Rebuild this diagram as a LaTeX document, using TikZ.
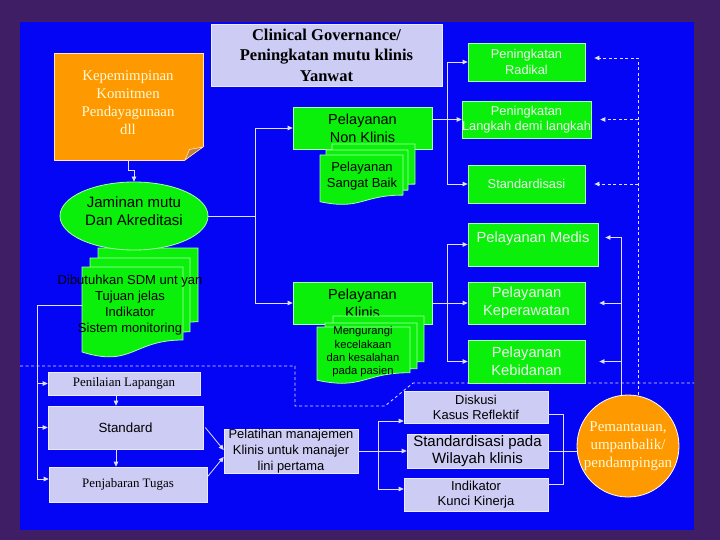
\documentclass[tikz,border=0pt]{standalone}
\usepackage{fontspec}
\setmainfont{Liberation Serif}
\setsansfont{Liberation Sans}
\usetikzlibrary{arrows.meta,shapes.geometric}
\definecolor{bgpurple}{RGB}{64,30,102}
\definecolor{panelblue}{RGB}{5,5,245}
\definecolor{bgreen}{RGB}{10,240,10}
\definecolor{gedge}{RGB}{170,255,170}
\definecolor{lav}{RGB}{204,204,245}
\definecolor{ledge}{RGB}{235,235,255}
\definecolor{orng}{RGB}{255,153,0}
\definecolor{foldc}{RGB}{190,130,60}
\definecolor{lnc}{RGB}{225,225,255}
\definecolor{cream}{RGB}{255,250,215}
\definecolor{wtxt}{RGB}{240,240,240}
\newcommand\docshp[4]{\path[docst] (#1,#2) -- (#3,#2) -- (#3,{#2+0.802*#4}) .. controls ({(#1+#3)/2},{#2+0.802*#4}) and ({(#1+#3)/2},{#2+1.107*#4}) .. (#1,{#2+0.934*#4}) -- cycle;}
\tikzset{
  ln/.style={draw=lnc, line width=0.8pt},
  dln/.style={draw=lnc, line width=0.8pt, dash pattern=on 3pt off 2.5pt},
  arr/.style={-{Triangle[length=5pt,width=4.5pt]}},
  gbox/.style={fill=bgreen, draw=gedge, line width=0.8pt, inner sep=0pt, align=center},
  lbox/.style={fill=lav, draw=ledge, line width=0.6pt, inner sep=0pt, align=center},
  docst/.style={fill=bgreen, draw=gedge, line width=0.8pt},
  sfb/.style={font=\sffamily\fontsize{14.5}{18}\selectfont},
  sfw/.style={font=\sffamily\fontsize{12.8}{15.5}\selectfont, text=wtxt},
  sfwl/.style={font=\sffamily\fontsize{14.7}{18}\selectfont, text=wtxt},
  txt/.style={inner sep=0pt, align=center}
}
\begin{document}
\begin{tikzpicture}[x=1pt,y=-1pt]
\useasboundingbox (0,0) rectangle (720,540);
\fill[bgpurple] (0,0) rectangle (720,540);
\fill[panelblue] (20,22) rectangle (694,530);

% dashed separators
\draw[dln] (20,366) -- (295,366) -- (295,406) -- (385,406) -- (413,383) -- (694,383);

% title
\node[lbox, minimum width=231pt, minimum height=62pt, font=\rmfamily\bfseries\fontsize{16.5}{20.5}\selectfont] (title) at (326.5,55) {Clinical Governance/\\Peningkatan mutu klinis\\Yanwat};

% orange note
\node[fill=orng, draw=white!75!orng, line width=0.6pt, minimum width=149pt, minimum height=107pt, inner sep=0pt] (kep) at (128.5,106.5) {};
\fill[panelblue] (184.5,161) -- (204,161) -- (204,146.5) -- cycle;
\filldraw[fill=foldc, draw=white!75!orng, line width=0.6pt] (185,160) -- (203,147) -- (189.5,149.5) -- cycle;
\node[txt, font=\rmfamily\fontsize{14.8}{18}\selectfont, text=cream] (kept) at (128,103) {Kepemimpinan\\Komitmen\\Pendayagunaan\\dll};

% document stack left
\docshp{98}{248}{198}{92}
\docshp{90}{258}{190}{92}
\docshp{82}{267}{183}{91}
\coordinate (docL) at (82,305);
\node[txt, font=\sffamily\fontsize{13}{15.8}\selectfont] (dibt) at (130,305) {Dibutuhkan SDM unt yan\\Tujuan jelas\\Indikator\\Sistem monitoring};

% ellipse
\node[ellipse, fill=bgreen, draw=gedge, line width=0.8pt, minimum width=148pt, minimum height=68pt, inner sep=0pt] (jam) at (134,216) {};
\node[txt, font=\sffamily\fontsize{15}{18}\selectfont] (jamt) at (134,211) {Jaminan mutu\\Dan Akreditasi};

% middle column
\node[gbox, sfb, minimum width=139pt, minimum height=42pt] (nonk) at (362.5,128) {Pelayanan\\Non Klinis};
\docshp{332}{144}{415}{50}
\docshp{326}{150}{408}{50}
\docshp{320}{155}{403}{50}
\node[txt, font=\sffamily\fontsize{13}{16}\selectfont] (sbaik) at (362,176) {Pelayanan\\Sangat Baik};

\node[gbox, sfb, minimum width=139pt, minimum height=42pt] (klin) at (362.5,303) {Pelayanan\\Klinis};
\docshp{333}{316}{424}{57}
\docshp{325}{323}{417}{57}
\docshp{317}{327}{410}{57}
\node[txt, font=\sffamily\fontsize{11.2}{13.3}\selectfont] (meng) at (363,352) {Mengurangi\\kecelakaan\\dan kesalahan\\pada pasien};

% right column
\node[gbox, sfw, minimum width=117pt, minimum height=38pt] (radik) at (526.5,62) {Peningkatan\\Radikal};
\node[gbox, sfw, minimum width=117pt, minimum height=37pt] (langk) at (526.5,119.5) {Peningkatan\\Langkah demi langkah};
\node[gbox, sfw, minimum width=117pt, minimum height=38pt] (stdz) at (526.5,184) {Standardisasi};
\node[gbox, minimum width=130pt, minimum height=43pt] (medis) at (533,244.5) {};
\node[txt, sfwl] (medist) at (533,239) {Pelayanan Medis};
\node[gbox, sfwl, minimum width=117pt, minimum height=42pt] (kepw) at (526.5,303) {Pelayanan\\Keperawatan};
\node[gbox, sfwl, minimum width=117pt, minimum height=43pt] (kebid) at (526.5,361.5) {Pelayanan\\Kebidanan};

% circle
\node[circle, fill=orng, draw=white, line width=0.8pt, minimum size=102pt, inner sep=0pt, align=center, text=cream, font=\rmfamily\fontsize{15}{18}\selectfont] (circ) at (628,446) {Pemantauan,\\umpanbalik/\\pendampingan};

% bottom boxes
\node[lbox, font=\sffamily\fontsize{12.9}{15}\selectfont, minimum width=144pt, minimum height=32pt] (disk) at (476,407) {Diskusi\\Kasus Reflektif};
\node[lbox, font=\sffamily\fontsize{15}{17}\selectfont, minimum width=141pt, minimum height=34pt] (stdp) at (477.5,451) {Standardisasi pada\\Wilayah klinis};
\node[lbox, font=\sffamily\fontsize{13}{15}\selectfont, minimum width=144pt, minimum height=33pt] (indik) at (476,494.5) {Indikator\\Kunci Kinerja};
\node[lbox, font=\sffamily\fontsize{12.9}{15.7}\selectfont, minimum width=134pt, minimum height=44pt] (pel) at (291,451) {Pelatihan manajemen\\Klinis untuk manajer\\lini pertama};
\node[lbox, font=\rmfamily\fontsize{12.9}{15}\selectfont, minimum width=152pt, minimum height=23pt] (pen) at (124,383.5) {Penilaian Lapangan};
\node[lbox, font=\sffamily\fontsize{13.3}{15}\selectfont, minimum width=155pt, minimum height=43pt] (stan) at (125.5,427.5) {Standard};
\node[lbox, font=\rmfamily\fontsize{12.9}{15}\selectfont, minimum width=158pt, minimum height=35pt] (penj) at (128,484.5) {Penjabaran Tugas};

% connectors
\draw[ln, arr] (kep.south) -- ++(0,10) -| (jam.north);
\coordinate (j1) at (255,216);
\draw[ln] (jam.east) -- (j1);
\draw[ln, arr] (j1) |- (nonk.west);
\draw[ln, arr] (j1) |- (klin.west);

\coordinate (v1) at (447,0);
\draw[ln, arr] (nonk.east |- langk.west) -- (langk.west);
\draw[ln, arr] (v1 |- langk.west) |- (radik.west);
\draw[ln, arr] (v1 |- langk.west) |- (stdz.west);
\draw[ln, arr] (klin.east) -- (kepw.west);
\draw[ln, arr] (v1 |- kepw.west) |- (medis.west);
\draw[ln, arr] (v1 |- kepw.west) |- (kebid.west);

\coordinate (dv) at (638,0);
\draw[dln, arr] (dv |- circ.north) |- ([xshift=9pt,yshift=4pt]radik.east);
\draw[dln, arr] (dv |- langk.east) -- ([xshift=9pt]langk.east);
\draw[dln, arr] (dv |- stdz.east) -- ([xshift=9pt]stdz.east);

\coordinate (sv) at (621,0);
\draw[ln, arr] (sv |- circ.north) |- ([xshift=7pt,yshift=7pt]medis.east);
\draw[ln, arr] (sv |- kepw.east) -- ([xshift=14pt]kepw.east);
\draw[ln, arr] (sv |- kebid.east) -- ([xshift=14pt]kebid.east);

\coordinate (b1) at (563,414);
\coordinate (b2) at (563,484);
\draw[ln] (disk.east |- b1) -- (b1) -- (b2) -- (indik.east |- b2);
\draw[ln] (stdp.east) -- (stdp.east -| circ.west);

\coordinate (pv) at (378,0);
\draw[ln] (pel.east) -- (pv |- pel.east);
\draw[ln, arr] (pv |- pel.east) |- ([yshift=-14pt]disk.west);
\draw[ln, arr] (pv |- pel.east) -- (stdp.west);
\draw[ln, arr] (pv |- pel.east) |- ([yshift=5.5pt]indik.west);

\coordinate (lv) at (37,305);
\draw[ln] (docL) -- (lv);
\draw[ln, arr] (lv) |- (pen.west);
\draw[ln, arr] (lv) |- (stan.west);
\draw[ln, arr] (lv) |- ([yshift=5.5pt]penj.west);

\coordinate (av) at (116,0);
\draw[ln, arr] (av |- pen.south) -- (av |- stan.north);
\draw[ln, arr] (av |- stan.south) -- (av |- penj.north);

\draw[ln, arr] ([xshift=2pt]stan.east) -- ([yshift=1pt]pel.west);
\draw[ln, arr] ([yshift=7.5pt]penj.east) -- ([yshift=-6pt]pel.west);
\end{tikzpicture}
\end{document}
